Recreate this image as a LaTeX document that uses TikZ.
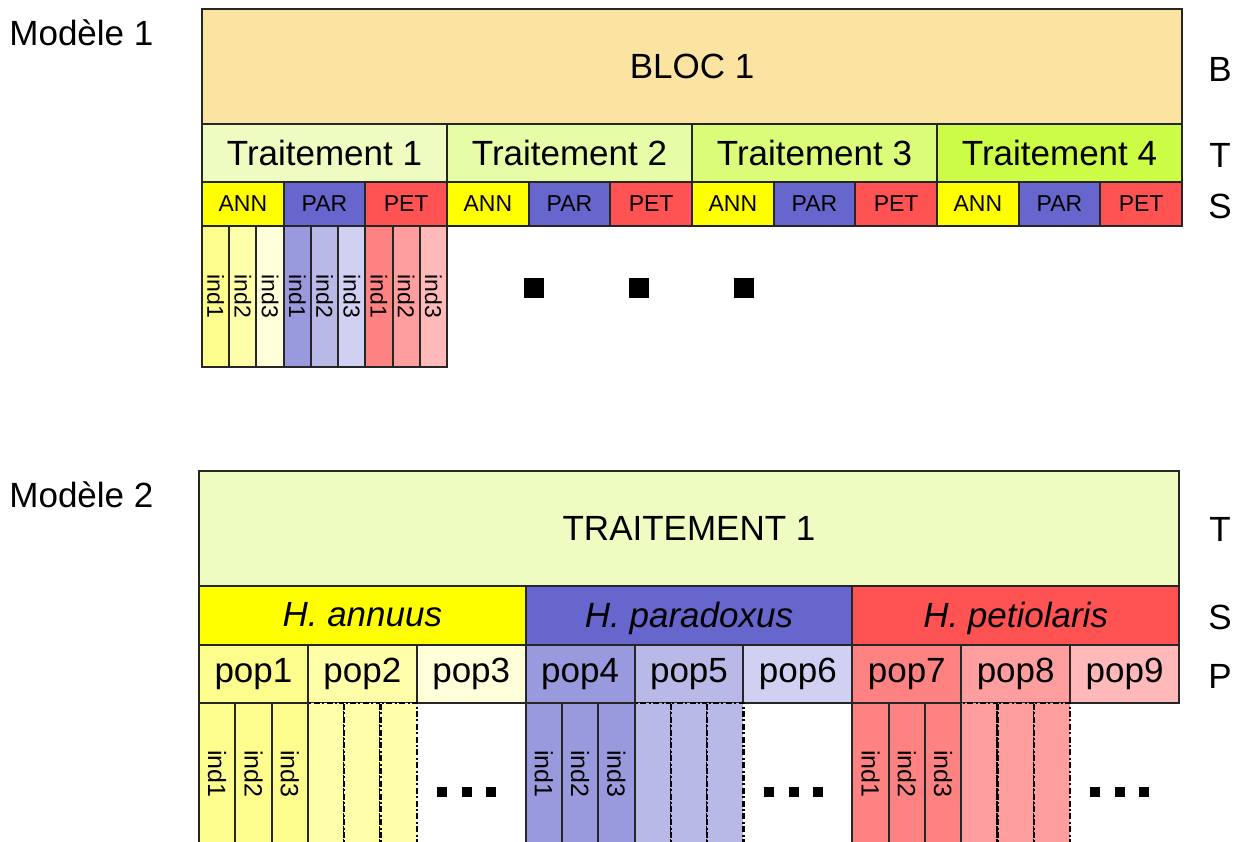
\documentclass[tikz,border=0pt]{standalone}
\usepackage{fontspec}
\setmainfont{Liberation Sans}
\usetikzlibrary{positioning}

\definecolor{blocc}{HTML}{FBE3A2}
\definecolor{trta}{HTML}{EEFCC2}
\definecolor{trtb}{HTML}{E6FCA6}
\definecolor{trtc}{HTML}{DAFC78}
\definecolor{trtd}{HTML}{CCFC46}
\definecolor{ann}{HTML}{FFFF00}
\definecolor{par}{HTML}{6666CC}
\definecolor{pet}{HTML}{FF5252}
\definecolor{anna}{HTML}{FDFD8E}
\definecolor{annb}{HTML}{FFFFAA}
\definecolor{annc}{HTML}{FFFFDA}
\definecolor{para}{HTML}{9999DD}
\definecolor{parb}{HTML}{B9B9E8}
\definecolor{parc}{HTML}{D0D0F2}
\definecolor{peta}{HTML}{FF8282}
\definecolor{petb}{HTML}{FF9E9E}
\definecolor{petc}{HTML}{FFB9B9}

\tikzset{
  box/.style={draw=black!85, line width=1pt, inner sep=0pt, outer sep=0pt, anchor=north west, font=\fontsize{17.5}{20}\selectfont},
  small/.style={font=\fontsize{11.5}{13}\selectfont},
  indcol/.style={draw=black!85, line width=1pt, inner sep=0pt, outer sep=0pt, rotate=-90, font=\fontsize{11.5}{13}\selectfont},
  dashcol/.style={indcol, draw=black, line width=1.2pt, dash pattern=on 3pt off 1.2pt on 1pt off 1.2pt},
  lbl/.style={inner sep=0pt, font=\fontsize{17.5}{20}\selectfont},
  sq/.style={fill=black, inner sep=0pt, minimum size=#1}
}

\begin{document}
\begin{tikzpicture}[x=0.5pt, y=-0.5pt]
\useasboundingbox (0,0) rectangle (1236,841);
\fill[white] (0,0) rectangle (1236,841);

% Modele 1
\node[lbl, anchor=west] (mod1) at (9,33) {Modèle 1};
\node[box, fill=blocc, minimum width=490pt, minimum height=57.5pt] (bloc) at (202,9) {BLOC 1};
\foreach \i/\c in {1/trta,2/trtb,3/trtc,4/trtd}
  \node[box, fill=\c, minimum width=122.5pt, minimum height=29pt] (trt\i) at ({202+245*(\i-1)},124) {Traitement \i};
\foreach \i in {1,...,4}
  \foreach \j/\s/\c in {1/ANN/ann,2/PAR/par,3/PET/pet}
    \node[box, small, fill=\c, minimum width=40.833pt, minimum height=22pt] (sp\i\j) at ({202+245*(\i-1)+81.667*(\j-1)},182) {\s};
\foreach \j/\n in {0/ann,1/par,2/pet}
  \foreach \k/\l in {1/a,2/b,3/c}
    \node[indcol, fill=\n\l, minimum width=70.5pt, minimum height=13.611pt] (ind\j\k) at ({202+81.667*\j+27.222*(\k-0.5)},296.5) {ind\k};
\foreach \k/\x in {1/534,2/639,3/744}
  \node[sq=10pt] (pt\k) at (\x,287.5) {};
\node[lbl] (labB) at (1220,69) {B};
\node[lbl] (labT) at (1220,155) {T};
\node[lbl] (labS) at (1220,206) {S};

% Modele 2
\node[lbl, anchor=west] (mod2) at (9,495) {Modèle 2};
\node[box, fill=trta, minimum width=490pt, minimum height=57.5pt] (trait) at (199,471) {TRAITEMENT 1};
\foreach \j/\s/\c in {1/annuus/ann,2/paradoxus/par,3/petiolaris/pet}
  \node[box, fill=\c, minimum width=163.333pt, minimum height=29.5pt, text depth=1pt] (esp\j) at ({199+326.667*(\j-1)},586) {\textit{H. \s}};
\foreach \p/\c in {1/anna,2/annb,3/annc,4/para,5/parb,6/parc,7/peta,8/petb,9/petc}
  \node[box, fill=\c, minimum width=54.444pt, minimum height=29pt] (pop\p) at ({199+108.889*(\p-1)},645) {pop\p};
\foreach \j/\n in {0/ann,1/par,2/pet} {
  \foreach \k in {1,2,3} {
    \node[indcol, font=\fontsize{12.5}{14}\selectfont, fill=\n a, minimum width=71pt, minimum height=18.148pt] (id\j\k) at ({199+326.667*\j+36.296*(\k-0.5)},774) {ind\k};
    \node[dashcol, fill=\n b, minimum width=71pt, minimum height=18.148pt] (dc\j\k) at ({199+326.667*\j+108.889+36.296*(\k-0.5)},774) {};
  }
  \foreach \k/\dx in {1/243,2/268,3/292}
    \node[sq=5pt] (pp\j\k) at ({199+326.667*\j+\dx},792) {};
}
\node[lbl] (labT2) at (1220,529) {T};
\node[lbl] (labS2) at (1220,617) {S};
\node[lbl] (labP) at (1220,676) {P};
\end{tikzpicture}
\end{document}
